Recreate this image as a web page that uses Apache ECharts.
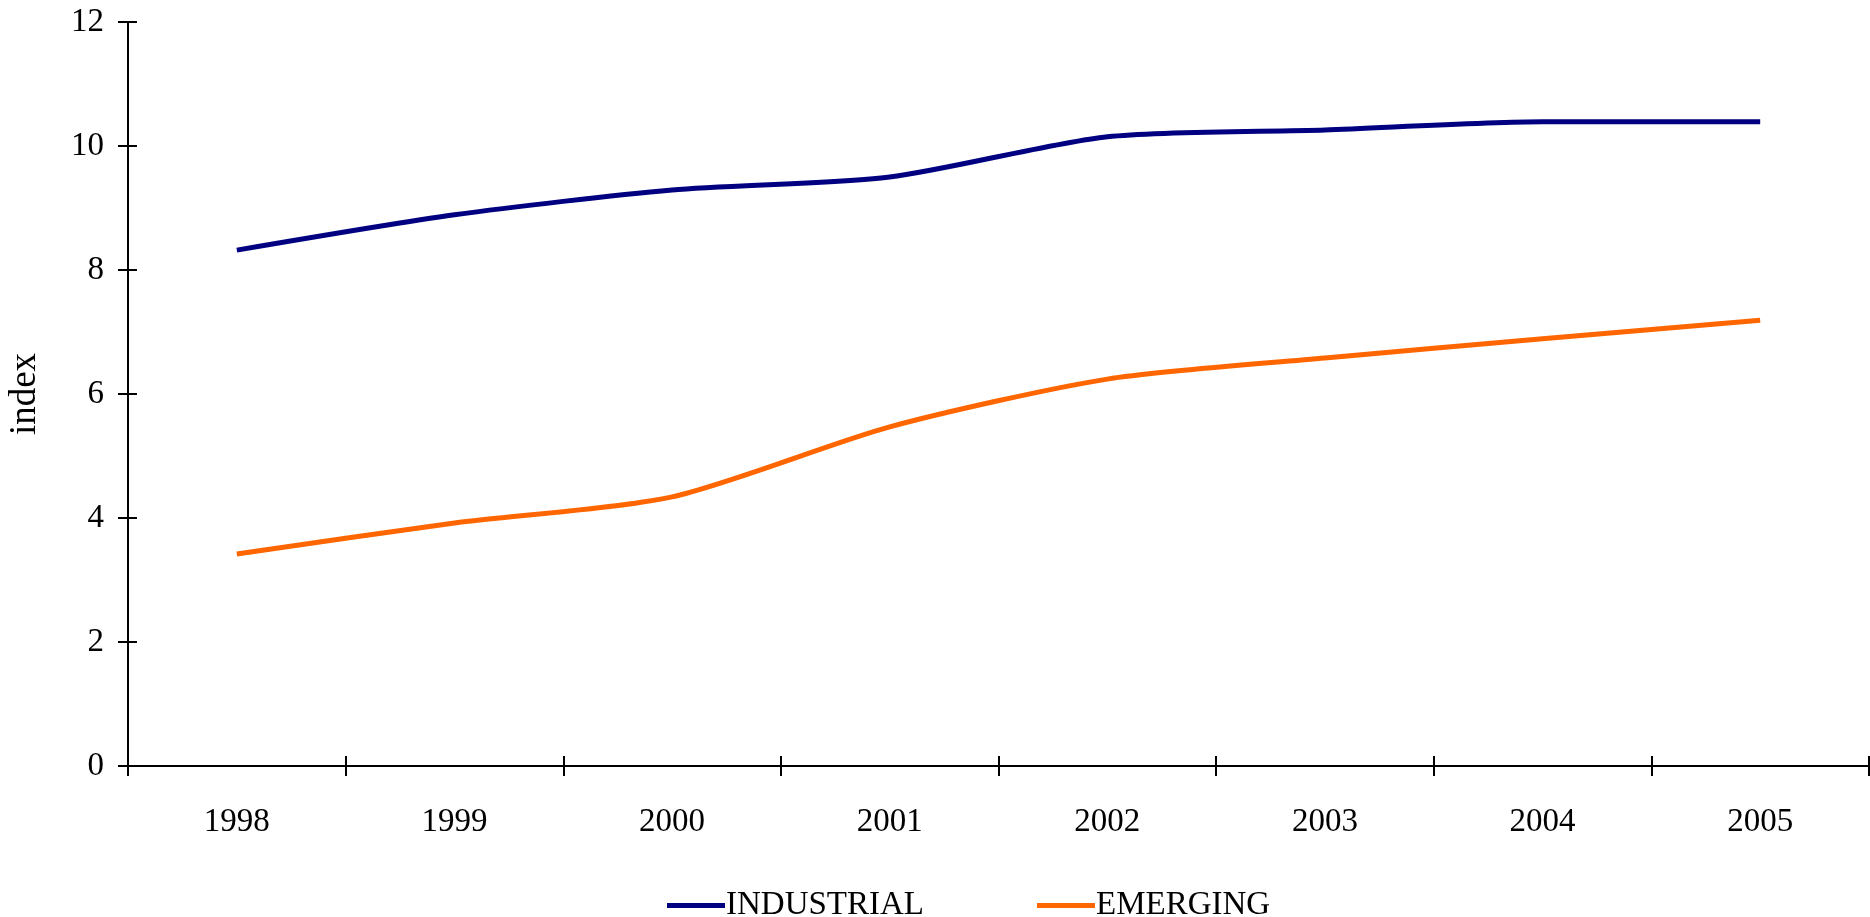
<!DOCTYPE html>
<html>
<head>
<meta charset="utf-8">
<script src="https://cdn.jsdelivr.net/npm/echarts@6/dist/echarts.min.js"></script>
<style>
  html, body { margin: 0; padding: 0; background: #ffffff; }
  #main { width: 1870px; height: 917px; }
</style>
</head>
<body>
<div id="main"></div>
<script>
var years = ['1998', '1999', '2000', '2001', '2002', '2003', '2004', '2005'];
var industrial = [8.32, 8.89, 9.29, 9.50, 10.15, 10.26, 10.39, 10.39];
var emerging = [3.42, 3.92, 4.34, 5.47, 6.24, 6.58, 6.89, 7.19];
var yTicks = [0, 2, 4, 6, 8, 10, 12];

var font = 'Liberation Serif';
var chart = echarts.init(document.getElementById('main'), null, { renderer: 'canvas' });

var axisLine = { show: true, lineStyle: { color: '#000', width: 2 } };
var gridBox = { left: 128, right: 1, top: 22, bottom: 151, containLabel: false, outerBoundsMode: 'none' };

var option = {
  backgroundColor: '#ffffff',
  animation: false,
  // second grid only carries the inner half of the crossing ticks
  grid: [gridBox, Object.assign({}, gridBox)],
  legend: {
    left: 662,
    top: 884,
    icon: 'rect',
    itemWidth: 58,
    itemHeight: 5,
    itemGap: 113,
    textStyle: { fontFamily: font, fontSize: 33, color: '#000', padding: [0, 0, 0, -4] },
    data: ['INDUSTRIAL', 'EMERGING']
  },
  xAxis: [{
    type: 'category',
    data: years,
    boundaryGap: true,
    axisLine: axisLine,
    axisTick: { show: true, length: 10, lineStyle: { color: '#000', width: 2 } },
    axisLabel: { fontFamily: font, fontSize: 33, color: '#000', margin: 40 },
    splitLine: { show: false }
  }, {
    gridIndex: 1,
    type: 'category',
    data: years,
    boundaryGap: true,
    axisLine: axisLine,
    axisTick: { show: true, inside: false, length: -10, lineStyle: { color: '#000', width: 2 } },
    axisLabel: { show: false },
    splitLine: { show: false }
  }],
  yAxis: [{
    type: 'value',
    min: yTicks[0],
    max: yTicks[yTicks.length - 1],
    interval: 2,
    name: 'index',
    nameLocation: 'middle',
    nameRotate: 90,
    nameGap: 84,
    nameTextStyle: { fontFamily: font, fontSize: 37, color: '#000' },
    axisLine: axisLine,
    axisTick: { show: true, length: 10, lineStyle: { color: '#000', width: 2 } },
    axisLabel: { fontFamily: font, fontSize: 33, color: '#000', margin: 24 },
    splitLine: { show: false }
  }, {
    gridIndex: 1,
    type: 'value',
    min: yTicks[0],
    max: yTicks[yTicks.length - 1],
    interval: 2,
    axisLine: axisLine,
    axisTick: { show: true, inside: false, length: -9, lineStyle: { color: '#000', width: 2 } },
    axisLabel: { show: false },
    splitLine: { show: false }
  }],
  series: [{
    name: 'INDUSTRIAL',
    type: 'line',
    data: industrial,
    smooth: 0.25,
    symbol: 'none',
    color: '#000080',
    lineStyle: { color: '#000080', width: 5 }
  }, {
    name: 'EMERGING',
    type: 'line',
    data: emerging,
    smooth: 0.25,
    symbol: 'none',
    color: '#ff6600',
    lineStyle: { color: '#ff6600', width: 5 }
  }, {
    // empty series so the tick-only axes get drawn
    name: 'ticks',
    type: 'line',
    xAxisIndex: 1,
    yAxisIndex: 1,
    data: [],
    symbol: 'none',
    silent: true
  }]
};

chart.setOption(option);
</script>
</body>
</html>
